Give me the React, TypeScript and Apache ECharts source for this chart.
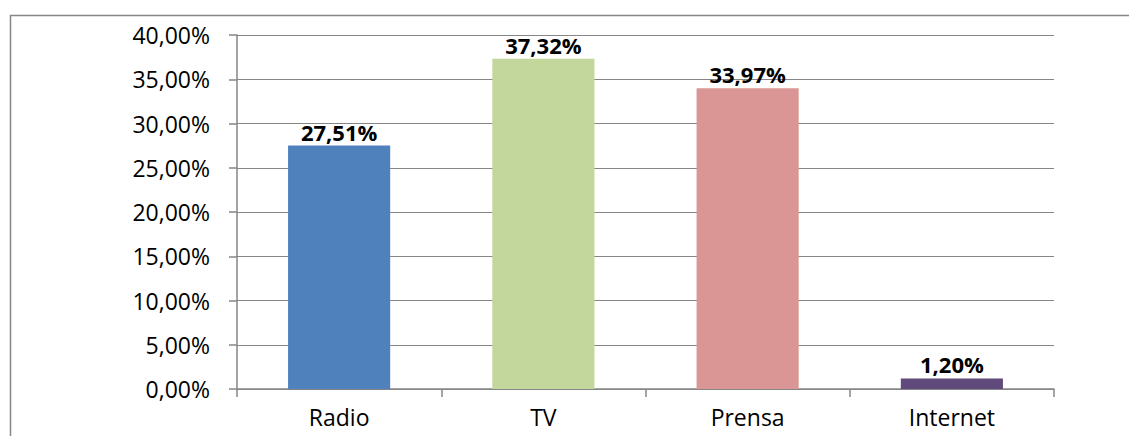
import React, { useEffect, useRef } from "react";
import * as echarts from "echarts";

const categories = ["Radio", "TV", "Prensa", "Internet"];
const values = [27.51, 37.32, 33.97, 1.2];
const barColors = ["#4F81BD", "#C3D69B", "#D99694", "#604A7B"];
const yTicks = { min: 0, max: 40, interval: 5 };

const fmt = (v: number) => v.toFixed(2).replace(".", ",") + "%";
const FONT = "'Open Sans', sans-serif";
const GRAY = "#868686";

export default function App() {
  const ref = useRef<HTMLDivElement>(null);
  useEffect(() => {
    const chart = echarts.init(ref.current!, null, { renderer: "svg" });
    chart.setOption({
      animation: false,
      backgroundColor: "#ffffff",
      textStyle: { fontFamily: FONT },
      graphic: [
        {
          type: "rect",
          left: 8,
          top: 13,
          shape: { x: 0, y: 0, width: 1300, height: 600 },
          style: { fill: "none", stroke: GRAY, lineWidth: 1.5 },
          silent: true,
          z: -10,
        },
      ],
      grid: { left: 237, right: 75, top: 35, bottom: 47, containLabel: false },
      xAxis: {
        type: "category",
        data: categories,
        axisLine: { show: true, lineStyle: { color: GRAY, width: 1.5 } },
        axisTick: { show: true, length: 8, alignWithLabel: false, lineStyle: { color: GRAY, width: 1.5 } },
        axisLabel: { color: "#000", fontSize: 23, fontFamily: FONT, margin: 16 },
        splitLine: { show: false },
      },
      yAxis: {
        type: "value",
        min: yTicks.min,
        max: yTicks.max,
        interval: yTicks.interval,
        axisLine: { show: true, lineStyle: { color: GRAY, width: 1.5 } },
        axisTick: { show: true, length: 8, lineStyle: { color: GRAY, width: 1.5 } },
        axisLabel: { color: "#000", fontSize: 23, fontFamily: FONT, margin: 27, formatter: (v: number) => fmt(v) },
        splitLine: { show: true, lineStyle: { color: GRAY, width: 1 } },
      },
      series: [
        {
          type: "bar",
          barCategoryGap: "50%",
          data: values.map((v, i) => ({ value: v, itemStyle: { color: barColors[i] } })),
          label: {
            show: true,
            position: "top",
            distance: 3,
            color: "#000",
            fontWeight: "bold",
            fontSize: 22,
            fontFamily: FONT,
            formatter: (p: any) => fmt(p.value),
          },
        },
      ],
    });
    return () => chart.dispose();
  }, []);
  return (
    <div
      ref={ref}
      style={{ position: "absolute", left: 0, top: 0, width: 1129, height: 436 }}
    />
  );
}
